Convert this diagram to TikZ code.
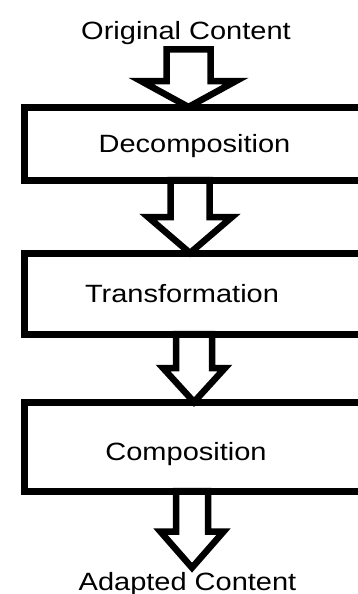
\documentclass[tikz,border=0pt]{standalone}
\usepackage{fontspec}
\setmainfont[FakeStretch=1.16]{Liberation Sans}
\usetikzlibrary{calc}

\tikzset{
  stagebox/.style={draw, line width=7pt, outer sep=0pt, inner sep=0pt,
    minimum width=341pt, font=\fontsize{25}{30}\selectfont},
  endlabel/.style={inner sep=4pt, font=\fontsize{25}{30}\selectfont},
  fatarrow/.style={draw, line width=6.5pt, fill=white, miter limit=10}
}

% hollow block arrow: from, to, x-centre, half shaft, half head, head length
\newcommand{\hollowarrow}[6]{%
  \path[fatarrow] let \p1=(#1), \p2=(#2) in
    (#3pt-#4pt,\y1) -- (#3pt-#4pt,\y2+#6pt) -- (#3pt-#5pt,\y2+#6pt) -- (#3pt,\y2)
    -- (#3pt+#5pt,\y2+#6pt) -- (#3pt+#4pt,\y2+#6pt) -- (#3pt+#4pt,\y1) -- cycle;}

\begin{document}
\begin{tikzpicture}[x=1pt,y=-1pt]
\useasboundingbox (0,0) rectangle (358,594);

\node(orig) at (186,40) [endlabel, anchor=base] {Original Content};
\node(adapt) at (187.5,590) [endlabel, anchor=base] {Adapted Content};

\coordinate(dectop) at (194.5,107);
\coordinate(transtop) at (194.5,253);
\coordinate(comptop) at (194.5,402);

% arrows first, boxes on top
\hollowarrow{orig.south}{dectop}{188.5}{22}{47.5}{26}
\hollowarrow{194.5,180}{transtop}{190}{19.5}{42}{36}
\hollowarrow{194.5,334}{comptop}{194}{18}{31}{34}
\hollowarrow{194.5,491}{adapt.north}{192}{16}{31.5}{36}

\node(dec) at (194.5,143.5) [stagebox, minimum height=73pt] {\raisebox{-3pt}[\height][\depth]{Decomposition}};
\node(trans) at (194.5,293.5) [stagebox, minimum height=81pt] {\kern-25pt Transformation};
\node(comp) at (194.5,446.5) [stagebox, minimum height=89pt] {\kern-17pt\raisebox{-8pt}[\height][\depth]{Composition}};

\end{tikzpicture}
\end{document}
